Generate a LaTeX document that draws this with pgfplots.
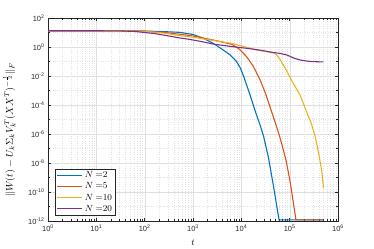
\documentclass[border=0pt]{standalone}
\usepackage{pgfplots}
\pgfplotsset{compat=1.18}
\usepackage{pgfplotstable}
\usepackage{fontspec}
\setmainfont{Liberation Sans}
\definecolor{mblue}{rgb}{0,0.447,0.741}
\definecolor{mred}{rgb}{0.85,0.325,0.098}
\definecolor{myellow}{rgb}{0.929,0.694,0.125}
\definecolor{mpurple}{rgb}{0.494,0.184,0.556}
\definecolor{axgray}{rgb}{0.15,0.15,0.15}

\pgfplotstableread{
t y
1 13.18
10 13.18
31.62 13.18
100 12.59
251.2 11.48
537.0 10.23
1000 7.244
1584.9 4.169
2630 1.778
3981 0.7079
5888 0.2818
7943 0.1
9550 0.03548
11220 8.913e-3
15136 5.012e-4
19498 3.548e-5
23988 5.012e-6
28840 7.079e-7
36308 2.512e-8
45709 3.162e-10
52481 1.995e-11
60256 1.2e-12
500000 1.2e-12
}\datablue

\pgfplotstableread{
t y
1 13.18
10 13.18
31.62 13.18
100 12.30
251.2 10.0
537.0 7.586
1000 5.754
2630 3.020
6310 1.549
8913 0.7586
12882 0.2138
17783 0.04467
24547 5.248e-3
31623 6.310e-4
42658 3.162e-5
52481 3.981e-6
63096 5.623e-7
74131 7.943e-8
85114 1.259e-8
102329 5.012e-10
117490 2.512e-11
134896 1.2e-12
500000 1.2e-12
}\datared

\pgfplotstableread{
t y
1 13.18
10 13.18
31.62 13.18
100 12.02
251.2 9.120
537.0 6.026
1000 4.786
2630 2.818
6310 1.778
20893 0.6166
50119 0.3715
63096 0.1413
87096 0.02239
109648 5.012e-3
165959 4.467e-4
229087 2.818e-5
281838 5.012e-6
338844 6.310e-7
380189 1e-7
416869 1.995e-8
467735 1.995e-9
500000 1.778e-10
}\datayellow

\pgfplotstableread{
t y
1 13.18
10 13.18
31.62 12.88
63.10 11.75
158.5 8.511
316.2 5.754
537.0 4.169
871.0 3.311
1584.9 2.291
2630 1.585
6310 1.072
12882 0.8128
25119 0.6026
45709 0.4169
63096 0.3631
87096 0.2818
125893 0.1660
165959 0.1259
223872 0.1072
309030 0.09772
500000 0.09333
}\datapurple

\begin{document}
\begin{tikzpicture}
\path[use as bounding box] (0,0) rectangle (374bp,249bp);
\begin{loglogaxis}[
  at={(48bp,28bp)}, anchor=south west,
  scale only axis, width=290bp, height=203bp,
  xmin=1, xmax=1e6, ymin=1e-12, ymax=1e2,
  clip=false,
  xtick={1,10,100,1000,10000,100000,1000000},
  xticklabels={10\textsuperscript{0},10\textsuperscript{1},10\textsuperscript{2},10\textsuperscript{3},10\textsuperscript{4},10\textsuperscript{5},10\textsuperscript{6}},
  ytick={1e-12,1e-10,1e-8,1e-6,1e-4,1e-2,1,1e2},
  yticklabels={10\textsuperscript{-12},10\textsuperscript{-10},10\textsuperscript{-8},10\textsuperscript{-6},10\textsuperscript{-4},10\textsuperscript{-2},10\textsuperscript{0},10\textsuperscript{2}},
  minor ytick={1e-11,1e-9,1e-7,1e-5,1e-3,1e-1,1e1},
  tick label style={font=\fontsize{7.5}{8.5}\selectfont, text=axgray},
  tick align=inside,
  major tick length=3bp, minor tick length=1.6bp,
  every tick/.style={axgray, line width=0.4pt},
  axis line style={axgray, line width=0.5pt},
  grid=both,
  major grid style={gray!25, line width=0.3pt},
  minor grid style={gray!22, line width=0.3pt, dotted},
  xlabel={$t$},
  ylabel={$\|W(t)-U_k\Sigma_kV_k^T(XX^T)^{-\frac{1}{2}}\|_F$},
  xlabel style={at={(axis description cs:0.5,-0.108)}, anchor=center, font=\fontsize{9}{10}\selectfont},
  ylabel style={at={(axis description cs:-0.133,0.448)}, anchor=center, font=\fontsize{10}{11}\selectfont},
  legend style={at={(axis description cs:0.024,0.025)}, anchor=south west,
     font=\fontsize{9.5}{11}\selectfont, draw=axgray, line width=0.5pt, fill=white,
     row sep=-0.5pt, inner xsep=1.5pt, inner ysep=1pt},
  legend cell align=left,
  legend image code/.code={\draw[#1, line width=1.1pt] (0bp,0bp) -- (25bp,0bp);},
  every axis plot/.append style={line width=1.1pt},
]
\addplot[mblue] table[x=t,y=y] {\datablue};
\addplot[mred] table[x=t,y=y] {\datared};
\addplot[myellow] table[x=t,y=y] {\datayellow};
\addplot[mpurple] table[x=t,y=y] {\datapurple};
\legend{$N\;{=}2$,$N\;{=}5$,$N\;{=}10$,$N\;{=}20$}
\end{loglogaxis}
\end{tikzpicture}
\end{document}
